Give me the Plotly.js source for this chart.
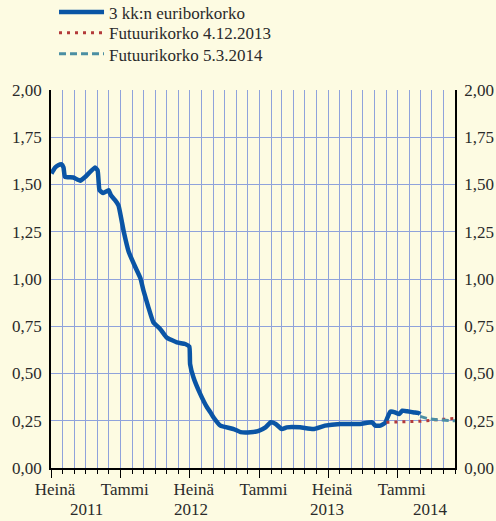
<!DOCTYPE html>
<html>
<head>
<meta charset="utf-8">
<script src="https://cdn.plot.ly/plotly-3.0.1.min.js"></script>
<style>html,body{margin:0;padding:0;background:#fdfbe2;}#chart{width:496px;height:521px;}</style>
</head>
<body>
<div id="chart"></div>
<script>
// 3 kk:n euriborkorko
var euriborDates = ["2011-07-02","2011-07-12","2011-07-20","2011-07-29","2011-08-03","2011-08-07","2011-08-29","2011-09-16","2011-09-29","2011-10-25","2011-11-01","2011-11-06","2011-11-16","2011-11-30","2011-12-06","2011-12-17","2011-12-26","2012-01-09","2012-01-22","2012-02-08","2012-02-22","2012-03-01","2012-03-14","2012-03-27","2012-04-14","2012-05-01","2012-05-28","2012-06-19","2012-06-30","2012-07-02","2012-07-11","2012-07-29","2012-08-16","2012-08-25","2012-09-02","2012-09-20","2012-10-25","2012-11-12","2012-12-08","2012-12-30","2013-01-17","2013-01-31","2013-02-13","2013-03-01","2013-03-14","2013-04-18","2013-05-23","2013-06-23","2013-08-02","2013-09-24","2013-10-25","2013-11-03","2013-11-16","2013-11-29","2013-12-12","2013-12-25","2014-01-04","2014-01-13","2014-01-26","2014-02-13","2014-02-26","2014-03-01"];
var euriborValues = [1.558,1.59,1.602,1.607,1.59,1.54,1.537,1.52,1.54,1.59,1.575,1.47,1.455,1.47,1.443,1.417,1.39,1.25,1.144,1.065,1.004,0.939,0.85,0.771,0.736,0.691,0.665,0.656,0.642,0.55,0.479,0.391,0.32,0.294,0.267,0.224,0.206,0.19,0.189,0.197,0.215,0.242,0.233,0.206,0.215,0.215,0.206,0.224,0.233,0.233,0.242,0.224,0.224,0.24,0.298,0.294,0.285,0.303,0.30,0.294,0.29,0.285];
// Futuurikorko 4.12.2013
var fut1Dates = ["2013-12-02","2014-01-15","2014-02-28","2014-04-11","2014-06-01"];
var fut1Values = [0.242,0.245,0.247,0.255,0.262];
// Futuurikorko 5.3.2014
var fut2Dates = ["2014-03-01","2014-03-20","2014-04-15","2014-06-01"];
var fut2Values = [0.273,0.262,0.255,0.25];

var seriesNames = ["3 kk:n euriborkorko","Futuurikorko 4.12.2013","Futuurikorko 5.3.2014"];
var tickDates = ["2011-07-01","2012-01-01","2012-07-01","2013-01-01","2013-07-01","2014-01-01"];
var tickLabels = ["Heinä","Tammi","Heinä","Tammi","Heinä","Tammi"];
var yearDates = ["2011-10-02","2012-07-05","2013-06-28","2014-03-29"];
var yearLabels = ["2011","2012","2013","2014"];

var FONT = "Liberation Serif";
var FS = 17;
var GRID = "#8fa2db";
var TXT = "#2a2a2a";

var traces = [
  {x: euriborDates, y: euriborValues, name: seriesNames[0], mode: "lines", legend: "legend",
   line: {color: "#0a55a5", width: 4.5, shape: "spline", smoothing: 0.4}},
  {x: fut1Dates, y: fut1Values, name: seriesNames[1], mode: "lines", legend: "legend2",
   line: {color: "#b33a3a", width: 3, dash: "3px,5px"}},
  {x: fut2Dates, y: fut2Values, name: seriesNames[2], mode: "lines", legend: "legend3",
   line: {color: "#4b8fa3", width: 3, dash: "7px,4px"}},
  {x: [euriborDates[0]], y: [euriborValues[0]], yaxis: "y2", mode: "lines", showlegend: false, hoverinfo: "skip", line: {width: 0}}
];

var annotations = yearDates.map(function(d, i){
  return {x: d, xref: "x", y: -0.11, yref: "paper", text: yearLabels[i], showarrow: false,
          xanchor: "center", yanchor: "middle", font: {family: FONT, size: FS, color: TXT}};
});

var yCommon = {range: [0, 2], dtick: 0.25, tick0: 0, tickformat: ".2f", showline: true, linecolor: "#000", linewidth: 1.5,
  ticks: "", showgrid: true, gridcolor: GRID, gridwidth: 1, zeroline: false, automargin: false,
  tickfont: {family: FONT, size: FS, color: TXT}, fixedrange: true};

function leg(y){
  return {x: 0.0075, y: y, xanchor: "left", yanchor: "top", itemwidth: 45,
    bgcolor: "rgba(0,0,0,0)", font: {family: FONT, size: FS, color: TXT}};
}

var layout = {
  width: 496, height: 521,
  margin: {l: 51, r: 41, t: 90, b: 53, autoexpand: false},
  paper_bgcolor: "#fdfbe2", plot_bgcolor: "#fdfbe2",
  separators: ", ",
  font: {family: FONT, color: TXT},
  showlegend: true,
  legend: leg(1.253), legend2: leg(1.198), legend3: leg(1.142),
  xaxis: {type: "date", range: ["2011-07-01","2014-06-01"], tickmode: "array", tickvals: tickDates, ticktext: tickLabels,
    ticks: "outside", ticklen: 8, tickcolor: "#000", tickwidth: 1.2, ticklabelshift: 4, tickangle: 0, automargin: false,
    ticklabelstandoff: -3,
    showgrid: true, gridcolor: GRID, gridwidth: 1,
    minor: {dtick: "M1", tick0: "2011-07-01", ticks: "outside", ticklen: 4, tickcolor: "#000", showgrid: true, gridcolor: GRID, gridwidth: 1},
    showline: true, linecolor: "#000", linewidth: 1.5, zeroline: false,
    tickfont: {family: FONT, size: FS, color: TXT}, fixedrange: true},
  yaxis: Object.assign({side: "left", ticklabelstandoff: 4}, yCommon),
  yaxis2: Object.assign({side: "right", overlaying: "y", ticklabelstandoff: 4}, yCommon, {showgrid: false}),
  annotations: annotations
};

Plotly.newPlot("chart", traces, layout, {displayModeBar: false});
</script>
</body>
</html>
